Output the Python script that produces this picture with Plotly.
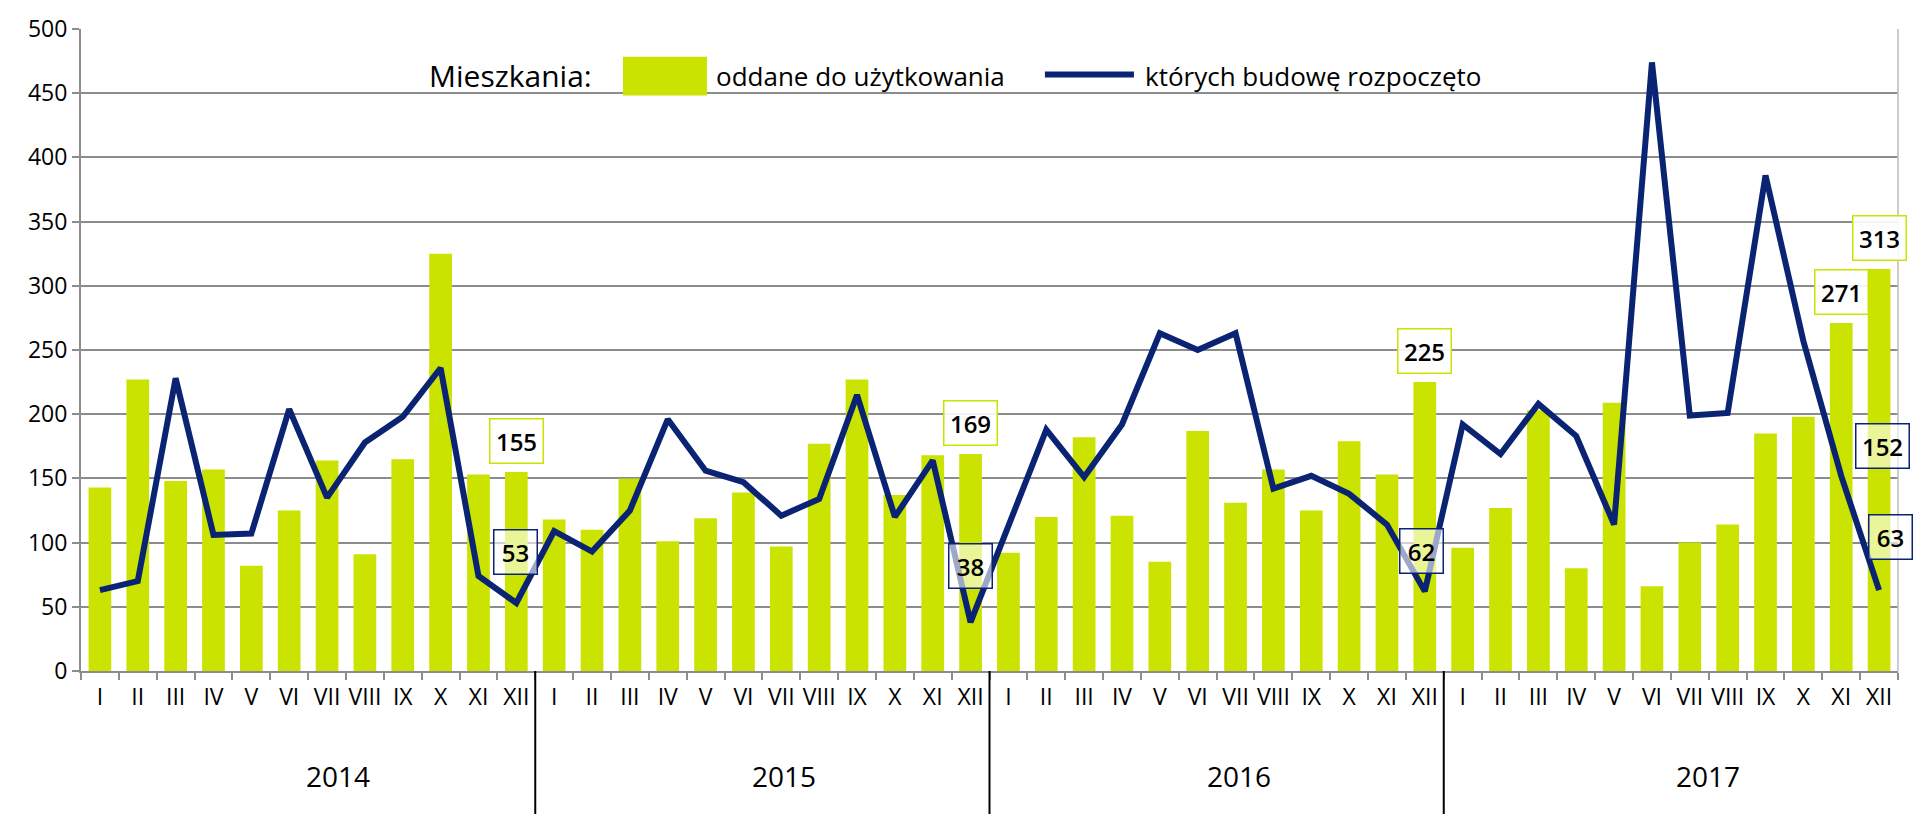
import plotly.graph_objects as go

years = ["2014", "2015", "2016", "2017"]
months = ["I", "II", "III", "IV", "V", "VI", "VII", "VIII", "IX", "X", "XI", "XII"]

oddane = [
    143, 227, 148, 157, 82, 125, 164, 91, 165, 325, 153, 155,
    118, 110, 150, 101, 119, 139, 97, 177, 227, 137, 168, 169,
    92, 120, 182, 121, 85, 187, 131, 157, 125, 179, 153, 225,
    96, 127, 203, 80, 209, 66, 100, 114, 185, 198, 271, 313,
]
rozpoczete = [
    63, 70, 228, 106, 107, 204, 135, 178, 198, 236, 74, 53,
    109, 93, 125, 196, 156, 147, 121, 134, 215, 120, 164, 38,
    113, 188, 151, 192, 263, 250, 263, 142, 152, 138, 114, 62,
    192, 169, 208, 183, 114, 474, 199, 201, 386, 257, 152, 63,
]
bar_label_idx = [11, 23, 35, 46, 47]
line_label_idx = [11, 23, 35, 46, 47]

legend_title = "Mieszkania:"
name_bar = "oddane do użytkowania"
name_line = "których budowę rozpoczęto"

GREEN = "#cbe300"
NAVY = "#0a2473"
GRID = "#8c8c8c"
FONT = "Open Sans"

n = len(oddane)
x = list(range(n))
ticktext = [m for _ in years for m in months]

fig = go.Figure()
fig.add_trace(go.Bar(x=x, y=oddane, marker=dict(color=GREEN, line=dict(width=0)),
                     name=name_bar, showlegend=False, hoverinfo="skip"))
fig.add_trace(go.Scatter(x=x, y=rozpoczete, mode="lines", line=dict(color=NAVY, width=6),
                         name=name_line, showlegend=False, hoverinfo="skip"))

annotations = []
shapes = []


def box_width(text):
    return 32 if len(text) <= 2 else 42


# bar labels
for i in bar_label_idx:
    t = str(oddane[i])
    annotations.append(dict(
        x=i, y=oddane[i], xref="x", yref="y", text=t, showarrow=False,
        yanchor="bottom", yshift=8, width=box_width(t),
        font=dict(family=FONT, size=24, color="black", weight=600),
        bordercolor=GREEN, borderwidth=1.5, borderpad=5, bgcolor="rgba(255,255,255,0.9)"))

# line labels (offsets in px)
line_shifts = {11: (-1, 51), 23: (0, 56), 35: (-3, 40), 46: (41, 30), 47: (11, 53)}
for i in line_label_idx:
    t = str(rozpoczete[i])
    dx, dy = line_shifts[i]
    annotations.append(dict(
        x=i, y=rozpoczete[i], xref="x", yref="y", text=t, showarrow=False,
        yanchor="middle", xshift=dx, yshift=dy, width=box_width(t),
        font=dict(family=FONT, size=24, color="black", weight=600),
        bordercolor=NAVY, borderwidth=1.5, borderpad=5, bgcolor="rgba(255,255,255,0.6)"))

# year labels and separators
year_pos = [6.28, 18.06, 30.1, 42.47]
for yr, xp in zip(years, year_pos):
    annotations.append(dict(x=xp, y=-0.164, xref="x", yref="paper", text=yr, showarrow=False,
                            yanchor="middle", font=dict(family=FONT, size=28, color="black")))
for k in range(1, len(years)):
    xb = k * len(months) - 0.5
    shapes.append(dict(type="line", xref="x", yref="paper", x0=xb, x1=xb, y0=0, y1=-0.23,
                       line=dict(color="black", width=2)))

# right border
shapes.append(dict(type="line", xref="paper", yref="paper", x0=1, x1=1, y0=0, y1=1,
                   line=dict(color="#bdbdbd", width=1.5)))

# manual legend
annotations.append(dict(x=0.2823, y=0.927, xref="paper", yref="paper", text=legend_title,
                        showarrow=False, xanchor="right", yanchor="middle",
                        font=dict(family=FONT, size=30, color="black")))
shapes.append(dict(type="rect", xref="paper", yref="paper", x0=0.2983, x1=0.3445,
                   y0=0.8966, y1=0.9566, fillcolor=GREEN, line=dict(width=0)))
annotations.append(dict(x=0.3484, y=0.927, xref="paper", yref="paper", text=name_bar,
                        showarrow=False, xanchor="left", yanchor="middle",
                        font=dict(family=FONT, size=26, color="black")))
shapes.append(dict(type="line", xref="paper", yref="paper", x0=0.5305, x1=0.5795,
                   y0=0.9291, y1=0.9291, line=dict(color=NAVY, width=6)))
annotations.append(dict(x=0.5845, y=0.927, xref="paper", yref="paper", text=name_line,
                        showarrow=False, xanchor="left", yanchor="middle",
                        font=dict(family=FONT, size=26, color="black")))

fig.update_layout(
    width=1915, height=814,
    margin=dict(l=81, r=17, t=26, b=143),
    paper_bgcolor="white", plot_bgcolor="white",
    bargap=0.4, showlegend=False,
    font=dict(family=FONT, size=23, color="black"),
    annotations=annotations, shapes=shapes,
    xaxis=dict(range=[-0.5, n - 0.5], tickmode="array", tickvals=x, ticktext=ticktext,
               ticks="", showgrid=False, showline=True, linecolor=GRID, linewidth=2,
               tickfont=dict(family=FONT, size=23, color="black"), ticklabelstandoff=4,
               zeroline=False,
               minor=dict(ticks="outside", tickmode="linear", tick0=-0.5, dtick=1,
                          ticklen=7, tickwidth=2, tickcolor=GRID, showgrid=False)),
    yaxis=dict(range=[0, 500], tickmode="linear", tick0=0, dtick=50,
               ticks="outside", ticklen=7, tickwidth=2, tickcolor=GRID,
               showgrid=True, gridcolor=GRID, gridwidth=2,
               showline=True, linecolor=GRID, linewidth=2, zeroline=False,
               tickfont=dict(family=FONT, size=23, color="black"), ticklabelstandoff=0),
)

fig.write_html(
    "out.html",
    config={"displayModeBar": False},
    post_script="document.body.style.margin='0';document.body.style.overflow='hidden';",
)
